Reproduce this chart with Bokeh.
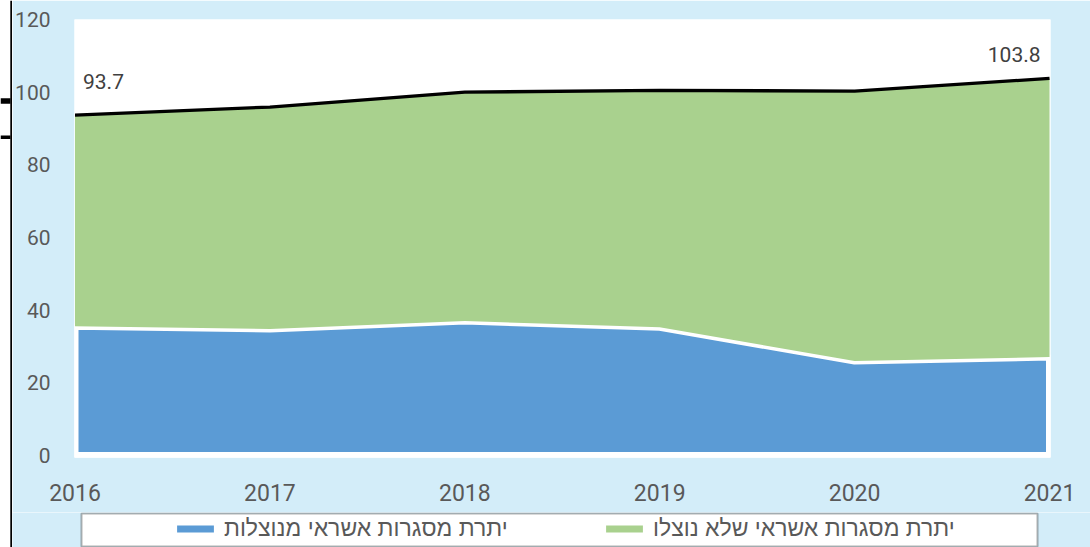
from bokeh.plotting import figure
from bokeh.layouts import row, column
from bokeh.models import Legend, LegendItem, BoxAnnotation, Label, Range1d, FixedTicker
from bokeh.embed import file_html
from bokeh.resources import INLINE

years = [2016, 2017, 2018, 2019, 2020, 2021]
utilized = [35.6, 34.8, 37.0, 35.3, 26.0, 27.1]
total = [93.7, 95.9, 100.0, 100.5, 100.3, 103.8]
baseline = [0, 0, 0, 0, 0, 0]
y_ticks = [0, 20, 40, 60, 80, 100, 120]
label_utilized = "יתרת מסגרות אשראי מנוצלות"
label_unutilized = "יתרת מסגרות אשראי שלא נוצלו"

BG = "#d3edf9"
BLUE = "#5b9bd5"
GREEN = "#a9d18e"
TXT = "#595959"
NUM_FONT = "Roboto"
HEB_FONT = "Liberation Sans"


def cbox(l, r, t, b, color, line_color=None, line_width=1):
    return BoxAnnotation(left=l, right=r, top=t, bottom=b,
                         left_units="canvas", right_units="canvas",
                         top_units="canvas", bottom_units="canvas",
                         fill_color=color, fill_alpha=1,
                         line_color=line_color, line_width=line_width)


def bare(w, h, bg):
    f = figure(width=w, height=h, output_backend="svg", toolbar_location=None,
               x_axis_type=None, y_axis_type=None, x_range=Range1d(0, 1), y_range=Range1d(0, 1),
               min_border=0, min_border_left=0, min_border_right=0, min_border_top=0,
               min_border_bottom=0, background_fill_color=bg, border_fill_color=bg,
               outline_line_color=None, frame_align=False)
    f.grid.visible = False
    return f


# ---- left strip ----
strip = bare(12, 547, "white")
strip.add_layout(cbox(9.8, 12, 0, 547, "black"))
strip.add_layout(cbox(0, 10, 97.7, 103.3, "black"))
strip.add_layout(cbox(0, 10, 135, 138.5, "black"))

# ---- main chart ----
p = figure(width=1078, height=512, output_backend="svg", toolbar_location=None,
           x_range=Range1d(2015.9974, 2021.005), y_range=Range1d(-0.55, 120),
           min_border_left=61, min_border_right=40, min_border_top=19, min_border_bottom=55,
           background_fill_color="white", border_fill_color=BG, outline_line_color=None,
           frame_align=False)
p.grid.visible = False

for ax in (p.xaxis[0], p.yaxis[0]):
    ax.axis_line_color = None
    ax.major_tick_line_color = None
    ax.minor_tick_line_color = None
    ax.major_tick_out = 0
    ax.major_tick_in = 0
    ax.minor_tick_out = 0
    ax.minor_tick_in = 0
    ax.major_label_text_color = TXT
    ax.major_label_text_font = NUM_FONT
p.xaxis[0].ticker = FixedTicker(ticks=years)
p.yaxis[0].ticker = FixedTicker(ticks=y_ticks)
p.xaxis[0].major_label_text_font_size = "23px"
p.yaxis[0].major_label_text_font_size = "21px"
p.xaxis[0].major_label_standoff = 26
p.yaxis[0].major_label_standoff = 24

blue = p.varea(x=years, y1=baseline, y2=utilized, fill_color=BLUE)
xs = years + years[::-1]
ys = utilized + baseline[::-1]
p.patch(xs, ys, fill_alpha=0, line_color="white", line_width=7)
green = p.varea(x=years, y1=utilized, y2=total, fill_color=GREEN)
p.line(years, total, line_color="black", line_width=3.3)

p.add_layout(Label(x=years[0], y=total[0], text=f"{total[0]:.1f}", x_offset=8, y_offset=34,
                   text_baseline="middle", text_align="left", text_font=NUM_FONT,
                   text_font_size="21px", text_color="#404040"))
p.add_layout(Label(x=years[-1], y=total[-1], text=f"{total[-1]:.1f}", x_offset=-9, y_offset=24,
                   text_baseline="middle", text_align="right", text_font=NUM_FONT,
                   text_font_size="21px", text_color="#404040"))

# ---- legend strip ----
lg = bare(1078, 35, BG)
lg.add_layout(cbox(69, 1025, 1, 34, "white", line_color="black", line_width=2))
lb = lg.varea(x=years, y1=baseline, y2=utilized, fill_color=BLUE)
lgn = lg.varea(x=years, y1=utilized, y2=total, fill_color=GREEN)

legend = Legend(items=[LegendItem(label=label_utilized, renderers=[lb]),
                       LegendItem(label=label_unutilized, renderers=[lgn])],
                orientation="horizontal", location=(160, 5),
                glyph_width=46, glyph_height=9, label_standoff=6, spacing=87,
                padding=0, margin=0, border_line_color=None, background_fill_alpha=0,
                label_text_font=HEB_FONT, label_text_font_size="23px",
                label_text_color=TXT, label_width=290)
lg.add_layout(legend, "center")

layout = row(strip, column(p, lg))
open("out.html", "w").write(file_html(layout, INLINE))
